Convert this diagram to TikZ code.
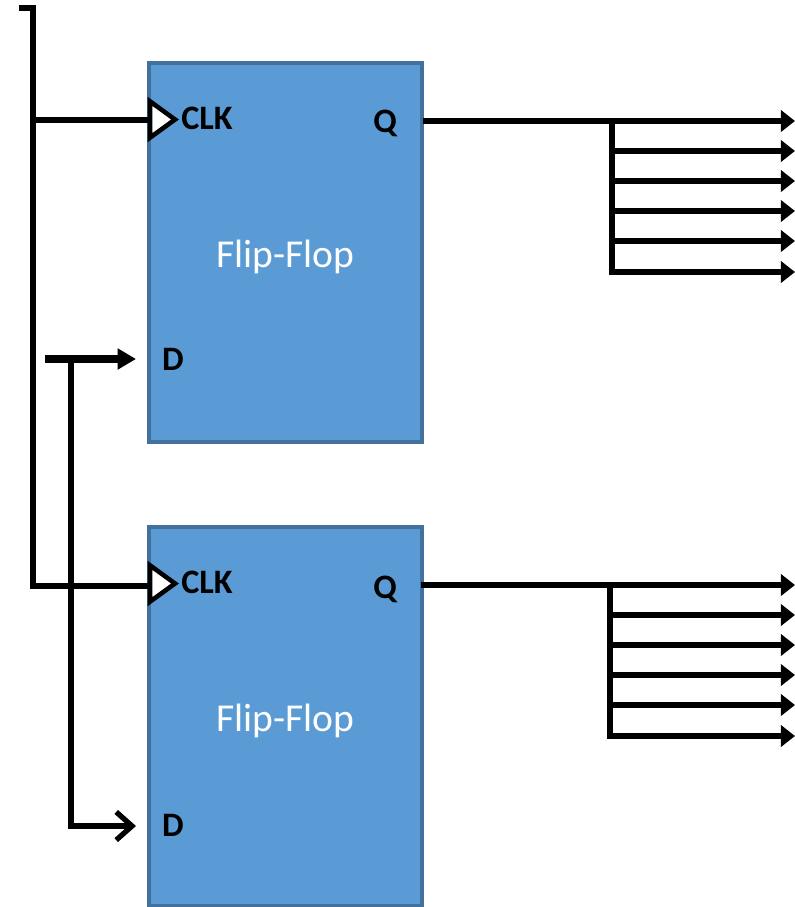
\documentclass[tikz,border=0pt]{standalone}
\usepackage{fontspec}
\setmainfont{Carlito}
\usetikzlibrary{shapes.geometric, arrows.meta}
\definecolor{ffblue}{RGB}{91,155,213}
\definecolor{ffedge}{RGB}{65,113,156}

\begin{document}
\begin{tikzpicture}[x=0.02cm, y=-0.02cm]
  \tikzset{
    ff_box/.style={
      rectangle, draw=ffedge, fill=ffblue, line width=2pt, minimum width=5.46cm, minimum height=7.58cm, inner sep=0pt
    },
    ff_name/.style={text=white, inner sep=0pt, font=\fontsize{22.5}{24}\selectfont},
    pin_label/.style={inner sep=0pt, font=\bfseries\fontsize{19.5}{21}\selectfont},
    clk_mark/.style={
      isosceles triangle, isosceles triangle apex angle=72, draw=black, fill=white, line width=2.6pt,
      minimum height=0.5cm, inner sep=0pt, outer sep=0pt, anchor=apex
    },
    wire/.style={line width=3pt},
    out_arrow/.style={wire, -{Triangle[length=8pt, width=12pt]}},
    d_arrow/.style={line width=4pt, -{Triangle[length=10.5pt, width=11.5pt]}},
    open_arrow/.style={wire, -{Straight Barb[length=9pt, width=16pt, line width=3pt]}}
  }
  \useasboundingbox (0,0) rectangle (795,907);

  % Flip-flops with their pins and the fan of outputs
  \foreach \ffi/\yy/\qx/\qy/\dy in {1/0/0/0/0, 2/464/-2/2/2} {
    \node[ff_box] (FF-\ffi) at (285.5,252.5+\yy) {};
    \node[ff_name] (name-\ffi) at (285.5,257+\yy) {Flip-Flop};
    \node[clk_mark] (clk-\ffi) at (175,119.5+\yy) {};
    \node[pin_label] (CLK-\ffi) at (207,118+\yy) {CLK};
    \node[pin_label] (Q-\ffi) at (385,123+\yy+\qy) {Q};
    \node[pin_label] (D-\ffi) at (173,359+\yy+\dy) {D};

    \coordinate (out-\ffi) at (795,121+\yy);
    \coordinate (fan-\ffi) at (612+\qx,121+\yy);
    \draw[out_arrow] (423+\qx,121+\yy) -- (out-\ffi);
    \foreach \yo [count=\oi] in {151,181,211,241} {
      \coordinate (tap-\ffi-\oi) at (612+\qx,\yo+\yy);
      \coordinate (end-\ffi-\oi) at (795,\yo+\yy);
      \draw[out_arrow] (tap-\ffi-\oi) -- (end-\ffi-\oi);
    }
    \coordinate (end-\ffi-5) at (795,272+\yy);
    \draw[out_arrow] (fan-\ffi) |- (end-\ffi-5);
  }

  % Clock line
  \coordinate (clk_start) at (19,8);
  \coordinate (clk_bend) at (33,8);
  \coordinate (clk_tap) at (33,120);
  \coordinate (clk_low) at (33,586);
  \draw[wire] (clk_start) -- (clk_bend) -- (clk_low) -- (clk-2.west |- clk_low);
  \draw[wire] (clk_tap) -- (clk-1.west |- clk_tap);

  % Data line
  \coordinate (d_start) at (45,359);
  \coordinate (d_end) at (136,359);
  \coordinate (d_tap) at (71,359);
  \coordinate (d_low) at (136,826);
  \draw[d_arrow] (d_start) -- (d_end);
  \draw[open_arrow] (d_tap) |- (d_low);
\end{tikzpicture}
\end{document}
